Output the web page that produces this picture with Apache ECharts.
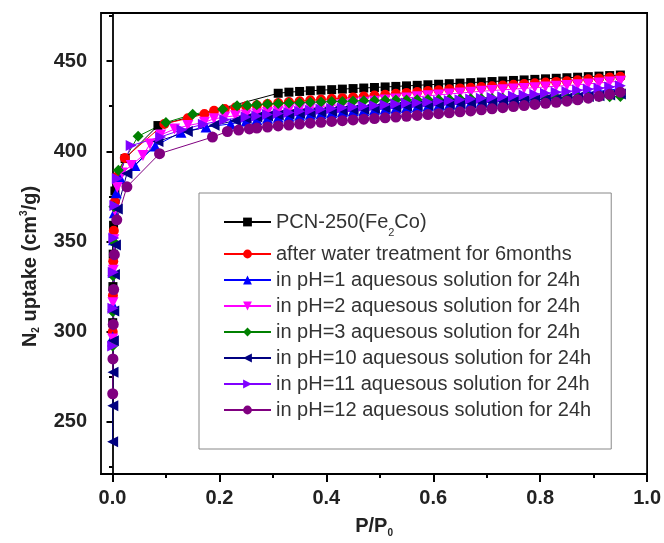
<!DOCTYPE html>
<html><head><meta charset="utf-8">
<script src="https://cdn.jsdelivr.net/npm/echarts@6/dist/echarts.min.js"></script>
<style>html,body{margin:0;padding:0;background:#fff}#c{width:664px;height:543px}</style>
</head><body><div id="c"></div>
<script>
// ---- data ----
const SERIES_NAMES = [
  'PCN-250(Fe2Co)',
  'after water treatment for 6months',
  'in pH=1 aquesous solution for 24h',
  'in pH=2 aquesous solution for 24h',
  'in pH=3 aquesous solution for 24h',
  'in pH=10 aquesous solution for 24h',
  'in pH=11 aquesous solution for 24h',
  'in pH=12 aquesous solution for 24h'
];
// shared relative-pressure points of the plateau region
const P_HIGH = [0.27,0.29,0.31,0.33,0.35,0.37,0.39,0.41,0.43,0.45,0.47,0.49,0.51,0.53,0.55,0.57,0.59,0.61,0.63,0.65,0.67,0.69,0.71,0.73,0.75,0.77,0.79,0.81,0.83,0.85,0.87,0.89,0.91,0.93,0.95];

const P_LOW_PCN = [0.0004,0.0008,0.0013,0.002,0.0045,0.0236,0.085];
const U_LOW_PCN = [305,325,343,359,378,396,414.3];
const U_HIGH_PCN = [null,null,432.2,432.8,433.2,433.6,433.9,434.2,434.5,434.8,435.1,435.4,435.7,436.0,436.3,436.6,436.9,437.2,437.5,437.8,438.1,438.4,438.7,439.0,439.3,439.6,439.9,440.2,440.5,440.8,441.1,441.4,441.7,442.0,442.3];

const P_LOW_WATER = [0.0004,0.0008,0.0014,0.0025,0.0045,0.009,0.023,0.097,0.141,0.172,0.19,0.21,0.23,0.25];
const U_LOW_WATER = [300,320,339,356,372,386,396.3,415.2,418.3,420.7,422.5,423.5,424.3,425.0];
const U_HIGH_WATER = [425.6,426.2,426.8,427.3,427.8,428.3,428.7,429.1,429.5,429.9,430.4,430.9,431.4,431.9,432.4,432.9,433.4,433.9,434.4,434.9,435.3,435.7,436.1,436.5,436.9,437.3,437.7,438.1,438.5,438.9,439.4,439.9,440.4,440.9,441.4];

const P_LOW_PH1 = [0.0004,0.0008,0.0013,0.002,0.0035,0.007,0.015,0.042,0.08,0.128,0.175,0.221,0.25];
const U_LOW_PH1 = [297,315,333,351,366,377,385,392.2,403,410.6,413.5,415.2,416.8];
const U_HIGH_PH1 = [417.6,418.3,418.9,419.5,420.0,420.5,421.0,421.5,421.9,422.3,422.7,423.1,423.5,423.9,424.3,424.7,425.1,425.5,425.9,426.3,426.8,427.3,427.8,428.3,428.8,429.3,429.8,430.3,430.8,431.4,432.0,432.6,433.3,434.0,434.8];

const P_LOW_PH2 = [0.0004,0.0008,0.0014,0.0025,0.0045,0.009,0.018,0.035,0.057,0.07,0.09,0.116,0.141,0.172,0.19,0.21,0.23,0.25];
const U_LOW_PH2 = [296,316,334,351,367,380,388,392.2,397.7,404,409,412.4,414.3,416.1,418,419,419.7,420.2];
const U_HIGH_PH2 = [420.8,421.5,422.2,422.9,423.6,424.2,424.8,425.4,426.0,426.6,427.2,427.8,428.4,429.0,429.6,430.2,430.8,431.3,431.8,432.3,432.8,433.3,433.7,434.1,434.5,434.9,435.3,435.7,436.1,436.5,436.9,437.4,437.9,438.4,438.9];

const P_LOW_PH3 = [0.0003,0.0006,0.001,0.0016,0.0026,0.011,0.048,0.1,0.15,0.206,0.233,0.252];
const U_LOW_PH3 = [292,311,331,350,369.3,389.5,408.4,416,420.5,423.4,425.3,425.4];
const U_HIGH_PH3 = [425.8,426.2,426.5,426.8,427.0,427.2,427.4,427.6,427.7,427.9,428.0,428.2,428.3,428.4,428.5,428.6,428.7,428.8,428.9,429.0,429.1,429.2,429.3,429.4,429.5,429.6,429.7,429.8,429.8,429.9,430.0,430.1,430.2,430.3,430.4];

const P_LOW_PH10 = [0.0003,0.0006,0.001,0.0016,0.0024,0.0036,0.0055,0.009,0.027,0.085,0.14,0.19,0.23,0.25];
const U_LOW_PH10 = [239,259,277.5,295,311.5,331.7,348,368,387.7,405.5,411,414.5,417,418.2];
const U_HIGH_PH10 = [419.0,419.6,420.1,420.6,421.0,421.4,421.8,422.2,422.6,423.0,423.4,423.8,424.2,424.6,425.0,425.3,425.6,425.9,426.2,426.5,426.8,427.1,427.4,427.7,428.0,428.3,428.6,428.9,429.2,429.6,430.0,430.4,430.8,431.3,431.8];

const P_LOW_PH11 = [0.0004,0.0008,0.0014,0.0025,0.0045,0.009,0.035,0.09,0.13,0.17,0.21,0.25];
const U_LOW_PH11 = [292,313,333,352,370,385,403.2,408,412,415,417.5,419];
const U_HIGH_PH11 = [419.6,420.4,421.0,421.6,422.2,422.8,423.3,423.8,424.2,424.6,425.0,425.4,425.8,426.2,426.6,427.0,427.4,427.8,428.2,428.6,429.0,429.4,429.8,430.2,430.7,431.2,431.7,432.2,432.7,433.2,433.8,434.4,435.0,435.7,436.4];

const P_LOW_PH12 = [0.0004,0.0008,0.0014,0.0022,0.0035,0.008,0.027,0.088,0.187,0.215,0.236,0.256];
const U_LOW_PH12 = [265.6,284.9,304,323.4,342.7,362,380.3,398.7,407.9,411,411.8,412.4];
const U_HIGH_PH12 = [412.9,413.5,414.1,414.6,415.1,415.6,416.1,416.6,417.0,417.4,417.8,418.2,418.6,419.0,419.4,419.9,420.4,420.9,421.4,421.9,422.4,423.0,423.6,424.2,424.8,425.4,426.0,426.6,427.2,427.8,428.6,429.5,430.5,431.6,432.8];

const Y_TICKS = [250,300,350,400,450];
const Y_MINOR = [225,275,325,375,425,475];
const X_TICKS = [0,0.2,0.4,0.6,0.8,1.0];
const X_MINOR = [0.1,0.3,0.5,0.7,0.9];

// ---- styles ----
const COLORS = ['#000000','#FF0000','#0000FF','#FF00FF','#008000','#000080','#8000FF','#800080'];
const SYMBOLS = ['rect','circle','triangle','path://M0,0L10,0L5,9Z','diamond','path://M0,5L9,0L9,10Z','path://M0,0L9,5L0,10Z','circle'];
const SIZES = [9,10,11,11,11,11,11,11];
const FONT = "'Liberation Sans', Arial, Helvetica, sans-serif";

const LOWS = [[P_LOW_PCN,U_LOW_PCN],[P_LOW_WATER,U_LOW_WATER],[P_LOW_PH1,U_LOW_PH1],[P_LOW_PH2,U_LOW_PH2],[P_LOW_PH3,U_LOW_PH3],[P_LOW_PH10,U_LOW_PH10],[P_LOW_PH11,U_LOW_PH11],[P_LOW_PH12,U_LOW_PH12]];
const HIGHS = [U_HIGH_PCN,U_HIGH_WATER,U_HIGH_PH1,U_HIGH_PH2,U_HIGH_PH3,U_HIGH_PH10,U_HIGH_PH11,U_HIGH_PH12];

function pairs(xs, ys){ return xs.map((x,i)=>[x, ys[i]]); }

const series = SERIES_NAMES.map((name,i)=>({
  name: name,
  type: 'line',
  xAxisIndex: 0, yAxisIndex: 0,
  data: pairs(LOWS[i][0], LOWS[i][1]).concat(pairs(P_HIGH, HIGHS[i])),
  connectNulls: true,
  symbol: SYMBOLS[i],
  symbolSize: SIZES[i],
  showAllSymbol: true,
  itemStyle: {color: COLORS[i], borderWidth: 0},
  lineStyle: {color: COLORS[i], width: 1},
  emphasis: {disabled: true},
  animation: false
}));

const chart = echarts.init(document.getElementById('c'), null, {renderer: 'canvas'});
const axisLineStyle = {color: '#000', width: 1.8};
chart.setOption({
  backgroundColor: '#fff',
  animation: false,
  grid: {left: 101, right: 13, top: 13, bottom: 66, show: true, borderColor: '#000', borderWidth: 1.8, backgroundColor: 'transparent'},
  xAxis: [{
    type: 'value', min: -0.0215, max: 1.0,
    axisLine: {show: true, lineStyle: axisLineStyle},
    axisTick: {show: true, inside: false, length: 8, lineStyle: {color: '#000', width: 2}, customValues: X_TICKS},
    axisLabel: {show: true, customValues: X_TICKS, margin: 14, color: '#222', fontSize: 20, fontWeight: 'bold', fontFamily: FONT,
      formatter: v => v.toFixed(1)},
    splitLine: {show: false},
    name: '{b|P/P}{s|0}', nameLocation: 'middle', nameGap: 40,
    nameTextStyle: {color: '#222', fontSize: 20, fontWeight: 'bold', fontFamily: FONT,
      rich: {b: {fontSize: 20, fontWeight: 'bold', color: '#222', fontFamily: FONT},
             s: {fontSize: 10, fontWeight: 'bold', color: '#222', fontFamily: FONT, padding: [14,0,0,0]}}}
  },{
    type: 'value', min: -0.0215, max: 1.0, position: 'bottom',
    axisLine: {show: false},
    axisTick: {show: true, inside: false, length: 4, lineStyle: {color: '#000', width: 2}, customValues: X_MINOR},
    axisLabel: {show: false}, splitLine: {show: false}
  }],
  yAxis: [{
    type: 'value', min: 221.1, max: 476.7,
    axisLine: {show: true, lineStyle: axisLineStyle},
    axisTick: {show: true, inside: false, length: 6, lineStyle: {color: '#000', width: 2}, customValues: Y_TICKS},
    axisLabel: {show: true, customValues: Y_TICKS, margin: 14, color: '#222', fontSize: 20, fontWeight: 'bold', fontFamily: FONT},
    splitLine: {show: false},
    name: '{b|N}{s|2}{b| uptake (cm}{p|3}{b|/g)}', nameLocation: 'middle', nameGap: 60,
    nameTextStyle: {color: '#222', fontSize: 20, fontWeight: 'bold', fontFamily: FONT, padding: [0,46,0,0],
      rich: {b: {fontSize: 20, fontWeight: 'bold', color: '#222', fontFamily: FONT},
             s: {fontSize: 10, fontWeight: 'bold', color: '#222', fontFamily: FONT, padding: [12,0,0,0]},
             p: {fontSize: 10, fontWeight: 'bold', color: '#222', fontFamily: FONT, padding: [0,0,12,0]}}}
  },{
    type: 'value', min: 221.1, max: 476.7, position: 'left',
    axisLine: {show: false},
    axisTick: {show: true, inside: false, length: 3.5, lineStyle: {color: '#000', width: 2}, customValues: Y_MINOR},
    axisLabel: {show: false}, splitLine: {show: false}
  }],
  legend: {
    show: true, orient: 'vertical', left: 199, top: 193,
    padding: [19, 20, 29, 24],
    itemGap: 6, itemWidth: 47, itemHeight: 11,
    borderColor: '#888', borderWidth: 1, backgroundColor: '#fff',
    selectedMode: false,
    data: SERIES_NAMES,
    formatter: function(name){
      if (name === SERIES_NAMES[0]) return '{a|PCN-250(Fe}{s|2}{a|Co)}';
      return name;
    },
    textStyle: {fontSize: 20, color: '#333', fontFamily: FONT,
      rich: {a: {fontSize: 20, color: '#333', fontFamily: FONT},
             s: {fontSize: 11, color: '#333', fontFamily: FONT, padding: [24,0,3,0]}}}
  },
  series: series
});
</script></body></html>
